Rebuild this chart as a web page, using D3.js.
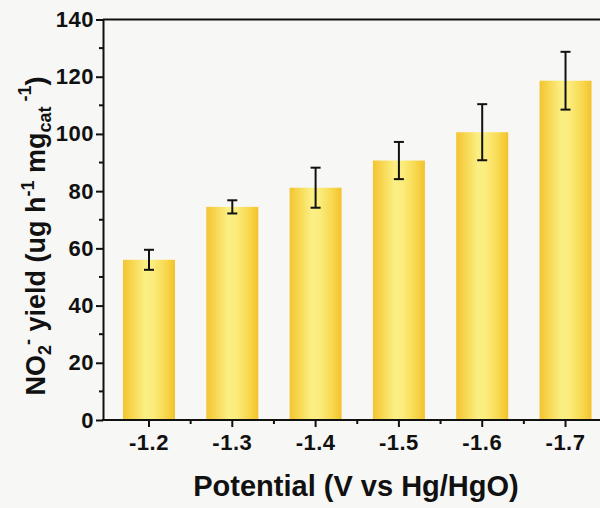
<!DOCTYPE html>
<html>
<head>
<meta charset="utf-8">
<script src="https://cdn.jsdelivr.net/npm/d3@7"></script>
<style>
  html, body { margin: 0; padding: 0; background: #f7f7f5; }
  svg { display: block; font-family: "Liberation Sans", Arial, sans-serif; }
</style>
</head>
<body>
<svg id="chart" width="600" height="508"></svg>
<script>
// Potential (V vs Hg/HgO) and NO2- yield with standard deviation
const potentials = ["-1.2", "-1.3", "-1.4", "-1.5", "-1.6", "-1.7"];
const yields = [56.0, 74.5, 81.2, 90.7, 100.6, 118.6];
const errors = [3.5, 2.3, 7.0, 6.5, 9.8, 10.1];
const yTicks = [0, 20, 40, 60, 80, 100, 120, 140];

const FONT = '"Liberation Sans", Arial, sans-serif';
const svg = d3.select("#chart");
const plotLeft = 103, plotRight = 611.5, plotTop = 19.5, plotBottom = 420;

const x = d3.scaleBand()
  .domain(potentials)
  .range([plotLeft, plotRight])
  .paddingInner(0.376)
  .paddingOuter(0.24);

const y = d3.scaleLinear().domain([0, 140]).range([plotBottom, plotTop]);

// horizontal cylinder-like shading for the bars
const defs = svg.append("defs");
const grad = defs.append("linearGradient").attr("id", "barFill")
  .attr("x1", "0%").attr("x2", "100%").attr("y1", "0%").attr("y2", "0%");
[
  [0, "#f4c431"], [0.18, "#f7d751"], [0.42, "#fbef84"], [0.58, "#fbec7c"],
  [0.82, "#f8d84e"], [1, "#f3c22c"]
].forEach(([o, c]) => grad.append("stop").attr("offset", o).attr("stop-color", c));

// bars
svg.append("g").selectAll("rect")
  .data(potentials)
  .join("rect")
  .attr("x", d => x(d))
  .attr("width", x.bandwidth())
  .attr("y", (d, i) => y(yields[i]))
  .attr("height", (d, i) => y(0) - y(yields[i]))
  .attr("fill", "url(#barFill)");

// error bars
const eg = svg.append("g").attr("stroke", "#111").attr("stroke-width", 2).attr("fill", "none");
potentials.forEach((p, i) => {
  const cx = x(p) + x.bandwidth() / 2;
  const hi = y(yields[i] + errors[i]), lo = y(yields[i] - errors[i]);
  eg.append("line").attr("x1", cx).attr("x2", cx).attr("y1", hi).attr("y2", lo);
  eg.append("line").attr("x1", cx - 5).attr("x2", cx + 5).attr("y1", hi).attr("y2", hi);
  eg.append("line").attr("x1", cx - 5).attr("x2", cx + 5).attr("y1", lo).attr("y2", lo);
});

// frame
const frame = svg.append("g").attr("stroke", "#111").attr("stroke-width", 2);
frame.append("line").attr("x1", plotLeft).attr("x2", plotRight).attr("y1", plotTop).attr("y2", plotTop);
frame.append("line").attr("x1", plotRight).attr("x2", plotRight).attr("y1", plotTop).attr("y2", plotBottom);

// y axis
const yAxis = svg.append("g").attr("transform", `translate(${plotLeft},0)`)
  .call(d3.axisLeft(y).tickValues(yTicks).tickSize(7).tickSizeOuter(0).tickPadding(2))
  .attr("font-family", FONT).attr("font-size", 22);
yAxis.select(".domain").attr("stroke", "#111").attr("stroke-width", 2);
yAxis.selectAll(".tick line").attr("stroke", "#111").attr("stroke-width", 2);
yAxis.selectAll(".tick text").attr("font-weight", "bold").attr("fill", "#111")
  .attr("letter-spacing", 0.5);
// minor y ticks
svg.append("g").selectAll("line")
  .data(d3.range(10, 140, 20))
  .join("line")
  .attr("x1", plotLeft - 4).attr("x2", plotLeft)
  .attr("y1", d => y(d)).attr("y2", d => y(d))
  .attr("stroke", "#111").attr("stroke-width", 2);

// x axis
const xAxis = svg.append("g").attr("transform", `translate(0,${plotBottom})`)
  .call(d3.axisBottom(x).tickSize(7).tickSizeOuter(0).tickPadding(7))
  .attr("font-family", FONT).attr("font-size", 22);
xAxis.select(".domain").attr("stroke", "#111").attr("stroke-width", 2)
  .attr("d", `M${plotLeft - 1},0H${plotRight}`);
xAxis.selectAll(".tick line").attr("stroke", "#111").attr("stroke-width", 2);
xAxis.selectAll(".tick text").attr("font-weight", "bold").attr("fill", "#111")
  .attr("letter-spacing", 0.5);
// minor x ticks between categories
svg.append("g").selectAll("line")
  .data(potentials.slice(0, -1))
  .join("line")
  .attr("x1", d => x(d) + x.bandwidth() / 2 + x.step() / 2)
  .attr("x2", d => x(d) + x.bandwidth() / 2 + x.step() / 2)
  .attr("y1", plotBottom).attr("y2", plotBottom + 4)
  .attr("stroke", "#111").attr("stroke-width", 2);

// axis titles
svg.append("text")
  .attr("x", 356).attr("y", 496)
  .attr("text-anchor", "middle")
  .attr("font-size", 29).attr("font-weight", "bold").attr("fill", "#111")
  .text("Potential (V vs Hg/HgO)");

const yt = svg.append("text")
  .attr("transform", "translate(45,236) rotate(-90)")
  .attr("text-anchor", "middle")
  .attr("font-size", 27).attr("font-weight", "bold").attr("fill", "#111");
yt.append("tspan").text("NO");
yt.append("tspan").attr("font-size", 18).attr("dy", 6).text("2");
yt.append("tspan").attr("font-size", 18).attr("dy", -17).text("-");
yt.append("tspan").attr("dy", 11).text(" yield (ug h");
yt.append("tspan").attr("font-size", 18).attr("dy", -11).text("-1");
yt.append("tspan").attr("dy", 11).text(" mg");
yt.append("tspan").attr("font-size", 18).attr("dy", 6).text("cat");
yt.append("tspan").attr("font-size", 18).attr("dy", -20).text(" -1");
yt.append("tspan").attr("dy", 14).text(")");
</script>
</body>
</html>
